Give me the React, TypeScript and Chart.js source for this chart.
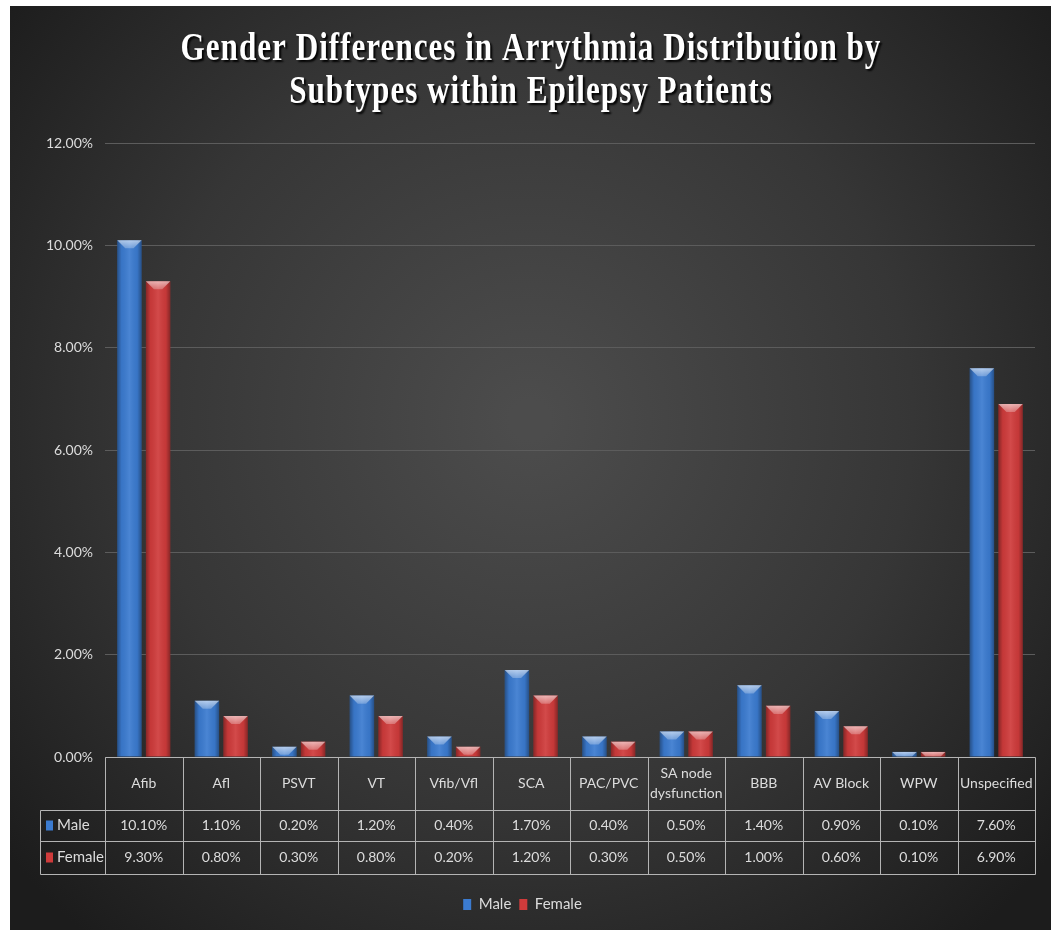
import React, { useEffect, useRef } from "react";
import { Chart, registerables } from "chart.js";

Chart.register(...registerables);

const titleLines = ["Gender Differences in Arrythmia Distribution by", "Subtypes within Epilepsy Patients"];
const categories = ["Afib", "Afl", "PSVT", "VT", "Vfib/Vfl", "SCA", "PAC/PVC", "SA node\ndysfunction", "BBB", "AV Block", "WPW", "Unspecified"];
const seriesNames = ["Male", "Female"];
const maleValues = [10.1, 1.1, 0.2, 1.2, 0.4, 1.7, 0.4, 0.5, 1.4, 0.9, 0.1, 7.6];
const femaleValues = [9.3, 0.8, 0.3, 0.8, 0.2, 1.2, 0.3, 0.5, 1.0, 0.6, 0.1, 6.9];
const yMax = 12;
const yStep = 2;

const BLUE = "#3b7bd0";
const RED = "#cf3b3b";
const TEXT = "#dcdcdc";
const FONT = "Lato, 'Open Sans', sans-serif";

const bgPlugin = {
  id: "bgPlugin",
  beforeDraw(chart: any) {
    const { ctx, width, height } = chart;
    ctx.save();
    ctx.fillStyle = "#ffffff";
    ctx.fillRect(0, 0, width, height);
    const g = ctx.createRadialGradient(530, 420, 20, 530, 420, 680);
    g.addColorStop(0, "#4c4c4c");
    g.addColorStop(0.55, "#363636");
    g.addColorStop(1, "#1c1c1c");
    ctx.fillStyle = g;
    ctx.fillRect(10, 6, 1041, 924);
    // title
    ctx.font = `bold 38px 'Liberation Serif', 'Times New Roman', serif`;
    ctx.textAlign = "center";
    ctx.textBaseline = "middle";
    try { (ctx as any).letterSpacing = "1.2px"; } catch (e) {}
    const ys = [50, 93];
    titleLines.forEach((t, i) => {
      ctx.save();
      ctx.translate(531, ys[i]);
      ctx.scale(0.82, 1.05);
      ctx.shadowColor = "rgba(0,0,0,0.95)";
      ctx.shadowOffsetX = 2;
      ctx.shadowOffsetY = 2;
      ctx.shadowBlur = 2;
      ctx.fillStyle = "#ffffff";
      ctx.fillText(t, 0, 0);
      ctx.restore();
    });
    try { (ctx as any).letterSpacing = "0px"; } catch (e) {}
    ctx.restore();
  },
};

const barStylePlugin = {
  id: "barStyle",
  afterDatasetsDraw(chart: any) {
    const { ctx } = chart;
    ctx.save();
    chart.data.datasets.forEach((ds: any, di: number) => {
      const meta = chart.getDatasetMeta(di);
      meta.data.forEach((el: any) => {
        const { x, y, base, width } = el.getProps(["x", "y", "base", "width"], true);
        const x0 = x - width / 2;
        const x1 = x + width / 2;
        const h = base - y;
        if (h <= 0) return;
        const lg = ctx.createLinearGradient(x0, 0, x1, 0);
        lg.addColorStop(0, "rgba(0,0,0,0.35)");
        lg.addColorStop(0.18, "rgba(0,0,0,0.05)");
        lg.addColorStop(0.5, "rgba(255,255,255,0.08)");
        lg.addColorStop(0.82, "rgba(0,0,0,0.05)");
        lg.addColorStop(1, "rgba(0,0,0,0.35)");
        ctx.fillStyle = lg;
        ctx.fillRect(x0, y, width, h);
        const b = Math.min(width * 0.33, h);
        ctx.beginPath();
        ctx.moveTo(x0, y);
        ctx.lineTo(x1, y);
        ctx.lineTo(x1 - b, y + b);
        ctx.lineTo(x0 + b, y + b);
        ctx.closePath();
        const vg = ctx.createLinearGradient(0, y, 0, y + b);
        vg.addColorStop(0, "rgba(255,255,255,0.6)");
        vg.addColorStop(1, "rgba(255,255,255,0.25)");
        ctx.fillStyle = vg;
        ctx.fill();
      });
    });
    ctx.restore();
  },
};

const tablePlugin = {
  id: "dataTable",
  afterDraw(chart: any) {
    const { ctx, chartArea } = chart;
    const xs = chart.scales.x;
    const n = categories.length;
    const w = (xs.getPixelForValue(n - 1) - xs.getPixelForValue(0)) / (n - 1);
    const left = xs.getPixelForValue(0) - w / 2;
    const right = xs.getPixelForValue(n - 1) + w / 2;
    const top = chartArea.bottom;
    const hdrB = top + 53;
    const r1 = top + 84;
    const r2 = top + 117;
    const labelLeft = left - 65;
    const px = (v: number) => Math.round(v) + 0.5;
    ctx.save();
    ctx.strokeStyle = "#b4b4b4";
    ctx.lineWidth = 1;
    ctx.beginPath();
    ctx.moveTo(px(left), px(top));
    ctx.lineTo(px(right), px(top));
    [hdrB, r1, r2].forEach((yy) => {
      ctx.moveTo(px(labelLeft), px(yy));
      ctx.lineTo(px(right), px(yy));
    });
    for (let i = 0; i <= n; i++) {
      const xx = px(left + i * w);
      ctx.moveTo(xx, px(top));
      ctx.lineTo(xx, px(r2));
    }
    ctx.moveTo(px(labelLeft), px(hdrB));
    ctx.lineTo(px(labelLeft), px(r2));
    ctx.stroke();

    ctx.fillStyle = TEXT;
    ctx.font = `14px ${FONT}`;
    ctx.textAlign = "center";
    ctx.textBaseline = "middle";
    const hMid = (top + hdrB) / 2;
    categories.forEach((c, i) => {
      const cx = xs.getPixelForValue(i);
      const lines = c.split("\n");
      lines.forEach((ln, k) => {
        ctx.fillText(ln, cx, hMid + (k - (lines.length - 1) / 2) * 20);
      });
      ctx.fillText(maleValues[i].toFixed(2) + "%", cx, (hdrB + r1) / 2);
      ctx.fillText(femaleValues[i].toFixed(2) + "%", cx, (r1 + r2) / 2);
    });
    const rows = [
      { name: seriesNames[0], color: BLUE, mid: (hdrB + r1) / 2 },
      { name: seriesNames[1], color: RED, mid: (r1 + r2) / 2 },
    ];
    ctx.textAlign = "left";
    ctx.font = `15px ${FONT}`;
    rows.forEach((r) => {
      ctx.fillStyle = r.color;
      ctx.fillRect(labelLeft + 6, r.mid - 5, 7, 10);
      ctx.fillStyle = TEXT;
      ctx.fillText(r.name, labelLeft + 17, r.mid);
    });
    ctx.restore();
  },
};

export default function App() {
  const ref = useRef<HTMLCanvasElement | null>(null);
  useEffect(() => {
    if (!ref.current) return;
    const chart = new Chart(ref.current, {
      type: "bar",
      data: {
        labels: categories,
        datasets: [
          { label: seriesNames[0], data: maleValues, backgroundColor: BLUE, barPercentage: 0.85, categoryPercentage: 0.74 },
          { label: seriesNames[1], data: femaleValues, backgroundColor: RED, barPercentage: 0.85, categoryPercentage: 0.74 },
        ],
      },
      options: {
        responsive: false,
        animation: false,
        layout: { padding: { left: 10, right: 22, top: 143, bottom: 13 } },
        plugins: {
          title: { display: false },
          tooltip: { enabled: false },
          legend: {
            position: "bottom",
            labels: {
              color: TEXT,
              font: { family: FONT, size: 15 },
              boxWidth: 8,
              boxHeight: 11,
              padding: 8,
            },
          },
        },
        scales: {
          x: {
            grid: { display: false },
            border: { display: false },
            ticks: { display: false },
            afterFit: (s: any) => { s.height = 132; },
          },
          y: {
            min: 0,
            max: yMax,
            ticks: {
              stepSize: yStep,
              color: TEXT,
              font: { family: FONT, size: 14 },
              padding: 12,
              callback: (v: any) => Number(v).toFixed(2) + "%",
            },
            grid: { color: "#5c5c5c", drawTicks: false },
            border: { display: false },
            afterFit: (s: any) => { s.width = 95; },
          },
        },
      },
      plugins: [bgPlugin, barStylePlugin, tablePlugin],
    });
    return () => chart.destroy();
  }, []);
  return (
    <div style={{ position: "fixed", left: 0, top: 0, width: 1057, height: 935 }}>
      <canvas ref={ref} width={1057} height={935} />
    </div>
  );
}
